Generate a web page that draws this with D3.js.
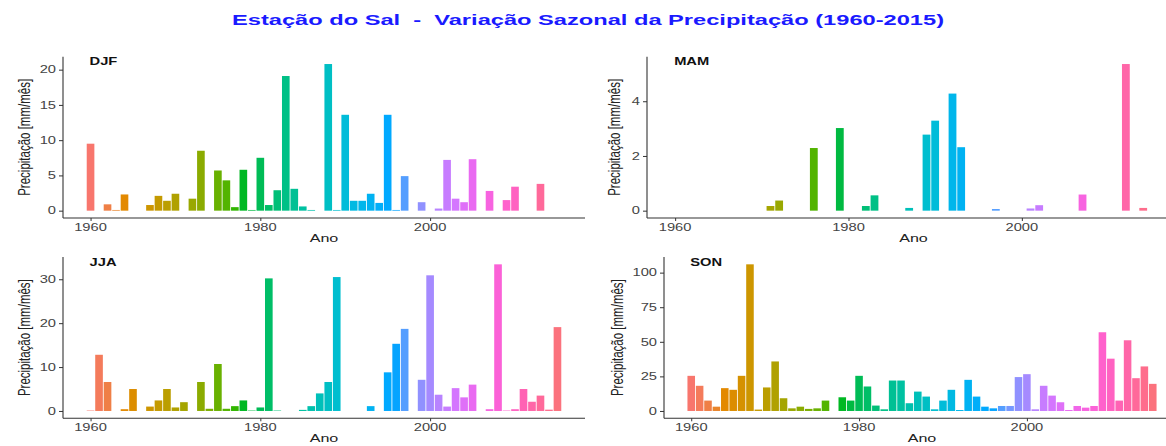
<!DOCTYPE html>
<html>
<head>
<meta charset="utf-8">
<script src="https://cdn.jsdelivr.net/npm/d3@7.9.0/dist/d3.min.js"></script>
<style>
  body { margin: 0; background: #fff; }
  svg { display: block; font-family: "Liberation Sans", Arial, sans-serif; }
  .title { white-space: pre; }
</style>
</head>
<body>
<svg id="chart" width="1166" height="446"></svg>
<script>
// ---- data (mm/mês por estação, 1960-2015) ----
const years = d3.range(1960, 2016);

const djf = [
  9.5, 0, 0.9, 0.1, 2.3, 0, 0, 0.8, 2.1, 1.4,
  2.4, 0, 1.7, 8.5, 0, 5.7, 4.3, 0.5, 5.8, 0.1,
  7.5, 0.8, 2.9, 19.1, 3.1, 0.6, 0.1, 0, 20.8, 0.1,
  13.6, 1.4, 1.4, 2.4, 1.1, 13.6, 0.1, 4.9, 0, 1.2,
  0, 0.3, 7.2, 1.7, 1.2, 7.3, 0, 2.8, 0, 1.5,
  3.4, 0, 0, 3.8, 0, 0
];
const mam = [
  0, 0, 0, 0, 0, 0, 0, 0, 0, 0,
  0, 0.17, 0.37, 0, 0, 0, 2.29, 0, 0, 3.02,
  0, 0, 0.17, 0.56, 0, 0, 0, 0.1, 0, 2.78,
  3.29, 0, 4.28, 2.32, 0, 0, 0, 0.06, 0, 0,
  0, 0.08, 0.2, 0, 0, 0, 0, 0.59, 0, 0,
  0, 0, 5.36, 0, 0.1, 0
];
const jja = [
  0.1, 12.8, 6.6, 0, 0.4, 5.0, 0, 1.0, 2.4, 5.0,
  0.8, 2.0, 0, 6.6, 0.5, 10.7, 0.5, 1.1, 2.4, 0.1,
  0.8, 30.2, 0.1, 0, 0, 0.25, 1.1, 4.0, 6.6, 30.5,
  0, 0, 0, 1.1, 0, 8.8, 15.3, 18.7, 0, 7.1,
  30.9, 3.7, 1.0, 5.2, 3.1, 6.0, 0, 0.4, 33.4, 0.1,
  0.4, 5.0, 2.1, 3.5, 0.3, 19.1
];
const son = [
  25.4, 18.2, 7.5, 3.1, 16.5, 15.3, 25.4, 106, 1.0, 17.0,
  35.8, 9.2, 1.9, 3.1, 1.5, 1.9, 7.5, 0, 9.9, 7.5,
  25.4, 17.7, 3.9, 1.2, 22.0, 22.0, 5.6, 14.0, 10.4, 1.2,
  7.5, 15.3, 0.7, 22.5, 10.4, 3.1, 1.9, 3.6, 3.6, 24.5,
  26.6, 1.2, 18.2, 11.1, 6.3, 0.7, 3.6, 2.4, 3.6, 56.9,
  37.8, 7.5, 51.1, 23.7, 32.2, 19.6
];

const xTicks = [1960, 1980, 2000];
const yTicksDJF = [0, 5, 10, 15, 20];
const yTicksMAM = [0, 2, 4];
const yTicksJJA = [0, 10, 20, 30];
const yTicksSON = [0, 25, 50, 75, 100];

const title = 'Estação do Sal  -  Variação Sazonal da Precipitação (1960-2015)';
const yTitle = 'Precipitação [mm/mês]';
const xTitle = 'Ano';

// the reference is stretched sideways, so text is too
const SX = 1.4;

// ggplot-like hue palette (polar LUV, c=100, l=65)
function hclLuv(h, c, l) {
  const rad = h * Math.PI / 180;
  const U = c * Math.cos(rad), V = c * Math.sin(rad);
  const un = 0.1978398, vn = 0.4683363;
  const Y = l > 8 ? 100 * Math.pow((l + 16) / 116, 3) : 100 * l / 903.3;
  const up = U / (13 * l) + un, vp = V / (13 * l) + vn;
  const X = 9 * Y * up / (4 * vp);
  const Z = -X / 3 - 5 * Y + 3 * Y / vp;
  const x = X / 100, y = Y / 100, z = Z / 100;
  const lin = [
    3.240479 * x - 1.537150 * y - 0.498535 * z,
    -0.969256 * x + 1.875992 * y + 0.041556 * z,
    0.055648 * x - 0.204043 * y + 1.057311 * z
  ];
  const g = lin.map(v => {
    const t = v > 0.00304 ? 1.055 * Math.pow(v, 1 / 2.4) - 0.055 : 12.92 * v;
    return Math.round(Math.max(0, Math.min(1, t)) * 255);
  });
  return d3.rgb(g[0], g[1], g[2]).formatHex();
}
const color = d3.scaleOrdinal()
  .domain(years)
  .range(years.map((d, i) => hclLuv(15 + i * 360 / years.length, 100, 65)));

const svg = d3.select('#chart');

// helper: text stretched horizontally
function stext(g, x, y, str, opts = {}) {
  const t = g.append('text')
    .attr('transform', `translate(${x},${y}) scale(${SX},1)` + (opts.rotate ? ` rotate(${opts.rotate})` : ''))
    .attr('text-anchor', opts.anchor || 'middle')
    .attr('font-size', opts.size || 10.5)
    .attr('font-weight', opts.weight || 'normal')
    .attr('fill', opts.fill || '#444')
    .text(str);
  if (opts.dy) t.attr('dy', opts.dy);
  return t;
}

// title
svg.append('text')
  .attr('class', 'title')
  .attr('x', 588)
  .attr('y', 25)
  .attr('text-anchor', 'middle')
  .attr('font-size', 14)
  .attr('font-weight', 'bold')
  .attr('fill', '#1a1aff')
  .attr('textLength', 712)
  .attr('lengthAdjust', 'spacingAndGlyphs')
  .text(title);

const panels = [
  { name: 'DJF', values: djf, yTicks: yTicksDJF, x0: 63,  x1: 585,  y0: 56.7, y1: 218, ylabX: 24 },
  { name: 'MAM', values: mam, yTicks: yTicksMAM, x0: 647, x1: 1180, y0: 56.7, y1: 218, ylabX: 614 },
  { name: 'JJA', values: jja, yTicks: yTicksJJA, x0: 63,  x1: 585,  y0: 257,  y1: 418.3, ylabX: 24 },
  { name: 'SON', values: son, yTicks: yTicksSON, x0: 664, x1: 1180, y0: 257,  y1: 418.3, ylabX: 617 }
];

panels.forEach(p => {
  const data = years.map((yr, i) => ({ year: yr, value: p.values[i] }));
  const maxV = d3.max(data, d => d.value);

  // ggplot default expansion (5%)
  const xs = d3.scaleLinear()
    .domain([1959.55 - 0.05 * 55.9, 2015.45 + 0.05 * 55.9])
    .range([p.x0, p.x1]);
  const ys = d3.scaleLinear()
    .domain([-0.05 * maxV, 1.05 * maxV])
    .range([p.y1, p.y0]);

  const g = svg.append('g');

  // bars
  g.append('g').selectAll('rect')
    .data(data)
    .join('rect')
    .attr('x', d => xs(d.year - 0.45))
    .attr('width', d => xs(d.year + 0.45) - xs(d.year - 0.45))
    .attr('y', d => ys(d.value))
    .attr('height', d => ys(0) - ys(d.value))
    .attr('fill', d => color(d.year));

  // axes
  const xAxis = d3.axisBottom(xs).tickValues(xTicks).tickSize(3).tickFormat('');
  const yAxis = d3.axisLeft(ys).tickValues(p.yTicks).tickSize(4).tickFormat('');

  const gx = g.append('g').attr('transform', `translate(0,${p.y1})`).call(xAxis);
  const gy = g.append('g').attr('transform', `translate(${p.x0},0)`).call(yAxis);
  [gx, gy].forEach(a => {
    a.select('.domain').attr('stroke', '#333').attr('stroke-width', 1.1);
    a.selectAll('.tick line').attr('stroke', '#333');
  });
  // plain axis lines (no outer ticks)
  gx.select('.domain').attr('d', `M${p.x0},0H${p.x1}`);
  gy.select('.domain').attr('d', `M0,${p.y0}V${p.y1}`);

  xTicks.forEach(t => stext(g, xs(t), p.y1 + 13, t));
  p.yTicks.forEach(t => stext(g, p.x0 - 7, ys(t) + 3.7, t, { anchor: 'end' }));

  // titles
  stext(g, (p.x0 + p.x1) / 2, p.y1 + 24, xTitle, { size: 11.5, fill: '#222' });
  stext(g, p.ylabX, (p.y0 + p.y1) / 2, yTitle, { size: 11.5, fill: '#222', rotate: -90, dy: '0.35em' });

  // season label
  stext(g, xs(1960) - 1, p.y0 + 8.5, p.name, { anchor: 'start', size: 10.5, weight: 'bold', fill: '#111' });
});
</script>
</body>
</html>
